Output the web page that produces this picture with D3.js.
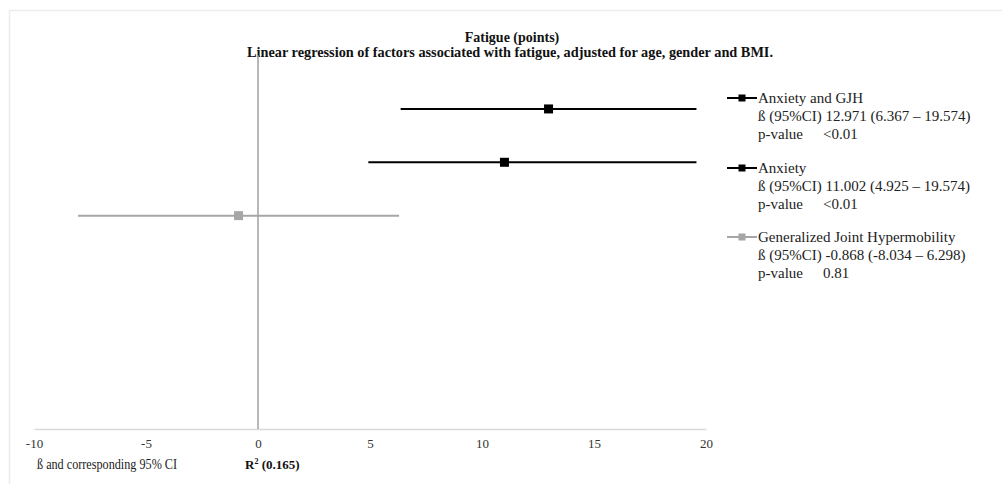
<!DOCTYPE html>
<html><head><meta charset="utf-8">
<script src="https://cdn.jsdelivr.net/npm/d3@7"></script>
<style>body{margin:0;background:#fff}svg{display:block}</style>
</head><body>
<script>
const categories = ["Anxiety and GJH", "Anxiety", "Generalized Joint Hypermobility"];
const betas = [12.971, 11.002, -0.868];
const ciLow = [6.367, 4.925, -8.034];
const ciHigh = [19.574, 19.574, 6.298];
const rowPos = [6, 5, 4];
const betaText = ["ß (95%CI) 12.971 (6.367 – 19.574)", "ß (95%CI) 11.002 (4.925 – 19.574)", "ß (95%CI) -0.868 (-8.034 – 6.298)"];
const pValues = ["<0.01", "<0.01", "0.81"];
const colors = ["#000000", "#000000", "#a6a6a6"];
const xTicks = [-10, -5, 0, 5, 10, 15, 20];
const title = "Fatigue (points)";
const subtitle = "Linear regression of factors associated with fatigue, adjusted for age, gender and BMI.";

const W = 1002, H = 484;
const svg = d3.select("body").append("svg").attr("width", W).attr("height", H);
const serif = "'Liberation Serif', 'Times New Roman', serif";

// outer frame (light)
svg.append("path").attr("d", `M9.5,${H} V10.5 H${W}`).attr("fill", "none").attr("stroke", "#ececec").attr("stroke-width", 1.5);

const x = d3.scaleLinear().domain([-10, 20]).range([34, 706]);
const y = d3.scaleLinear().domain([0, 7]).range([429, 55.6]);

// titles
svg.append("text").attr("x", 512).attr("y", 42).attr("text-anchor", "middle")
  .attr("font-family", serif).attr("font-weight", "bold").attr("font-size", 14).attr("fill", "#111").text(title);
svg.append("text").attr("x", 247).attr("y", 57)
  .attr("font-family", serif).attr("font-weight", "bold").attr("font-size", 14)
  .attr("textLength", 526).attr("lengthAdjust", "spacingAndGlyphs").attr("fill", "#111").text(subtitle);

// x axis
const xAxis = svg.append("g").attr("transform", `translate(0,${y(0)})`)
  .call(d3.axisBottom(x).tickValues(xTicks).tickSize(0).tickPadding(10).tickFormat(d => String(d)));
xAxis.select(".domain").attr("stroke", "#d9d9d9").attr("stroke-width", 1.3);
xAxis.selectAll("text").attr("font-family", serif).attr("font-size", 13).attr("fill", "#333");

// y axis (zero line)
svg.append("line").attr("x1", x(0)).attr("x2", x(0)).attr("y1", y(7)).attr("y2", y(0))
  .attr("stroke", "#a6a6a6").attr("stroke-width", 1.6);

// CI lines
svg.selectAll("line.ci").data(categories).join("line").attr("class", "ci")
  .attr("x1", (d, i) => x(ciLow[i])).attr("x2", (d, i) => x(ciHigh[i]))
  .attr("y1", (d, i) => y(rowPos[i])).attr("y2", (d, i) => y(rowPos[i]))
  .attr("stroke", (d, i) => colors[i]).attr("stroke-width", 2);

// markers
const ms = 9;
svg.selectAll("rect.pt").data(categories).join("rect").attr("class", "pt")
  .attr("x", (d, i) => x(betas[i]) - ms / 2).attr("y", (d, i) => y(rowPos[i]) - ms / 2)
  .attr("width", ms).attr("height", ms).attr("fill", (d, i) => colors[i]);

// legend
const legY = [98, 168, 237];
const lg = svg.append("g");
categories.forEach((c, i) => {
  const g = lg.append("g").attr("transform", `translate(0,${legY[i]})`);
  g.append("line").attr("x1", 727).attr("x2", 757).attr("y1", 0).attr("y2", 0).attr("stroke", colors[i]).attr("stroke-width", 2);
  g.append("rect").attr("x", 742 - 3.5).attr("y", -3.5).attr("width", 7).attr("height", 7).attr("fill", colors[i]);
  g.append("text").attr("x", 758).attr("y", 5).attr("font-family", serif).attr("font-size", 15).attr("fill", "#222").text(c);
  g.append("text").attr("x", 758).attr("y", 23).attr("font-family", serif).attr("font-size", 15).attr("fill", "#222").text(betaText[i]);
  g.append("text").attr("x", 758).attr("y", 41).attr("font-family", serif).attr("font-size", 15).attr("fill", "#222").text("p-value");
  g.append("text").attr("x", 823).attr("y", 41).attr("font-family", serif).attr("font-size", 15).attr("fill", "#222").text(pValues[i]);
});

// footer
svg.append("text").attr("x", 37).attr("y", 469).attr("font-family", serif).attr("font-size", 14)
  .attr("textLength", 140).attr("lengthAdjust", "spacingAndGlyphs").attr("fill", "#222").text("ß and corresponding 95% CI");
const r2 = svg.append("text").attr("x", 245).attr("y", 469).attr("font-family", serif).attr("font-size", 13).attr("font-weight", "bold").attr("fill", "#111");
r2.append("tspan").text("R");
r2.append("tspan").attr("font-size", 8).attr("dy", -5).text("2");
r2.append("tspan").attr("dy", 5).text(" (0.165)");
</script>
</body></html>
